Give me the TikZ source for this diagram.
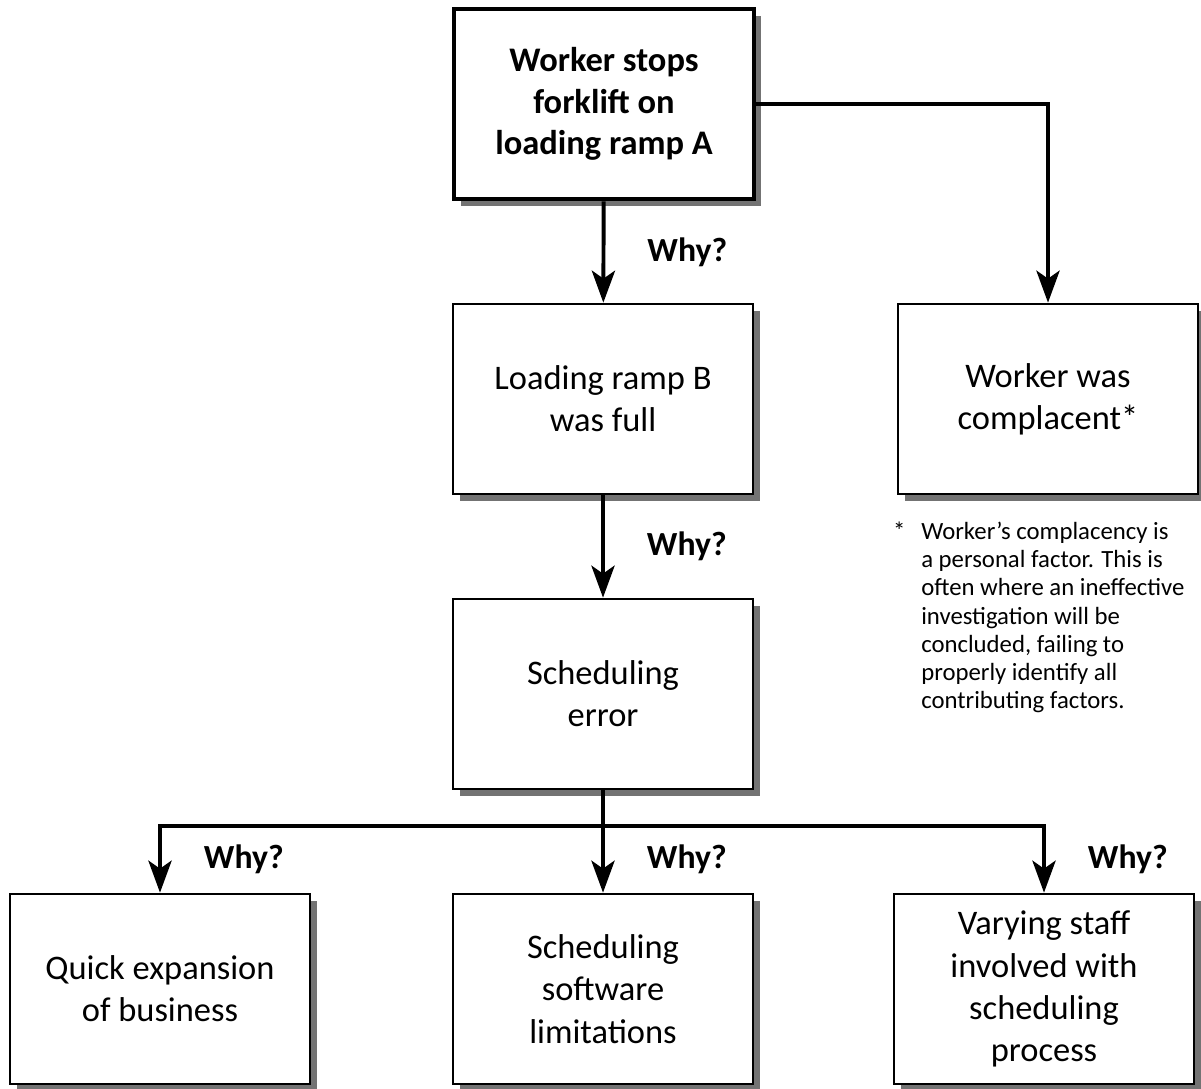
\documentclass[tikz,border=0pt]{standalone}
\usepackage{fontspec}
\setmainfont{Carlito}
\usetikzlibrary{arrows.meta,shadows,positioning}

\begin{document}
\begin{tikzpicture}[x=0.025cm, y=-0.025cm,
  cause/.style={draw, line width=1.9pt, fill=white, minimum width=7.5cm, minimum height=4.75cm, align=center, font=\fontsize{24.5}{30}\selectfont, drop shadow={shadow xshift=0.17cm, shadow yshift=-0.17cm, fill=black!55, opacity=1}},
  event/.style={cause, line width=3.2pt, font=\bfseries\fontsize{24.5}{29.5}\selectfont},
  why/.style={inner sep=0pt, font=\bfseries\fontsize{24}{30}\selectfont},
  edge/.style={line width=2.8pt},
  ask/.style={edge, -{Stealth[length=8mm, width=5.8mm, inset=2mm]}},
  note/.style={inner sep=0pt, align=left, font=\fontsize{17.6}{20}\selectfont}]
\useasboundingbox (0,0) rectangle (1201,1088);

\node[event] (stop) at (604,104) {Worker stops\\forklift on\\loading ramp A};
\node[cause] (full) at (603,399) {Loading ramp B\\was full};
\node[cause] (complacent) at (1048,399) {Worker was\\complacent*};
\node[cause] (sched) at (603,694) {Scheduling\\error};
\node[cause] (expansion) at (160,989) {Quick expansion\\of business};
\node[cause] (software) at (603,989) {Scheduling\\software\\limitations};
\node[cause] (staff) at (1044,989) {Varying staff\\involved with\\scheduling\\process};

\node[note, anchor=north west] (remark) at (921,522) {Worker's complacency is\\a personal factor. This is\\often where an ineffective\\investigation will be\\concluded, failing to\\properly identify all\\contributing factors.};
\node[note, anchor=north east] (star) at ([xshift=-0.38cm]remark.north west) {*};

\coordinate (bus) at (603,826);

\draw [ask] (stop) to node[why, right=1.05cm] (why1) {Why?} (full);
\draw [ask] (full) to node[why, right=1.05cm] (why2) {Why?} (sched);
\draw [ask] (stop) -| (complacent);
\draw [edge] (sched) to (bus);
\draw [ask] (bus) -| node[why, pos=0.75, right=1.05cm] (why3) {Why?} (expansion);
\draw [ask] (bus) to node[why, right=1.05cm] (why4) {Why?} (software);
\draw [ask] (bus) -| node[why, pos=0.75, right=1.05cm] (why5) {Why?} (staff);
\end{tikzpicture}
\end{document}
